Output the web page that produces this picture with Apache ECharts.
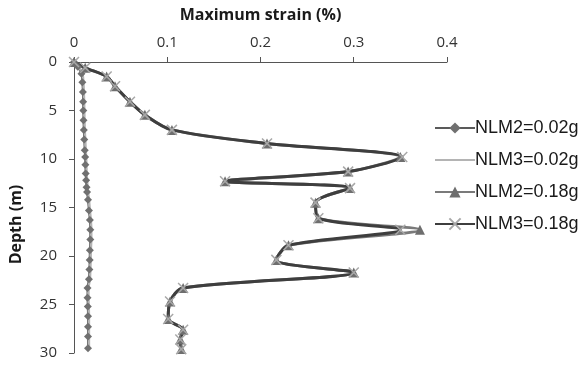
<!DOCTYPE html>
<html>
<head>
<meta charset="utf-8">
<script src="https://cdn.jsdelivr.net/npm/echarts@6/dist/echarts.min.js"></script>
<style>
  html, body { margin: 0; padding: 0; background: #ffffff; }
  #chart { width: 585px; height: 365px; }
</style>
</head>
<body>
<div id="chart"></div>
<script>
// Depth profiles of maximum shear strain
const xTicks = [0, 0.1, 0.2, 0.3, 0.4];
const yTicks = [0, 5, 10, 15, 20, 25, 30];

// Low-intensity motion (0.02g)
const depthLow = [0, 0.5, 1.2, 2.1, 3.1, 4.1, 5.0, 6.0, 7.0, 8.0, 9.1, 9.8, 10.6, 11.5, 12.2, 12.9, 13.4, 14.2, 15.3, 16.3, 17.3, 18.3, 19.4, 20.4, 21.4, 22.4, 23.3, 24.3, 25.2, 26.2, 27.3, 28.3, 29.5];
const nlm2Low = [0, 0.004, 0.008, 0.009, 0.0095, 0.0098, 0.010, 0.0102, 0.0105, 0.011, 0.0115, 0.012, 0.0122, 0.0125, 0.013, 0.0135, 0.014, 0.015, 0.016, 0.017, 0.0175, 0.0175, 0.017, 0.0168, 0.0165, 0.016, 0.0145, 0.0145, 0.0148, 0.015, 0.015, 0.015, 0.015];
const nlm3Low = [0, 0.005, 0.009, 0.010, 0.0105, 0.0108, 0.011, 0.0112, 0.0115, 0.012, 0.0125, 0.013, 0.0132, 0.0135, 0.014, 0.0145, 0.015, 0.016, 0.017, 0.018, 0.0185, 0.0185, 0.018, 0.0178, 0.0175, 0.017, 0.0155, 0.0155, 0.0158, 0.016, 0.016, 0.016, 0.016];

// High-intensity motion (0.18g)
const depthHigh = [0, 0.6, 1.5, 2.5, 4.1, 5.45, 7.0, 8.4, 9.8, 11.3, 12.3, 13.0, 14.5, 16.1, 17.3, 18.9, 20.4, 21.7, 23.3, 24.7, 26.5, 27.6, 28.6, 29.6];
const nlm2High = [0, 0.012, 0.035, 0.044, 0.060, 0.076, 0.105, 0.207, 0.350, 0.294, 0.162, 0.296, 0.259, 0.262, 0.371, 0.230, 0.217, 0.300, 0.117, 0.103, 0.101, 0.117, 0.114, 0.115];
const nlm3High = [0, 0.012, 0.035, 0.044, 0.060, 0.076, 0.105, 0.207, 0.352, 0.294, 0.162, 0.296, 0.259, 0.262, 0.350, 0.230, 0.217, 0.300, 0.117, 0.103, 0.101, 0.117, 0.114, 0.115];

const seriesNames = ['NLM2=0.02g', 'NLM3=0.02g', 'NLM2=0.18g', 'NLM3=0.18g'];

function pairs(xs, ds) {
  return xs.map((v, i) => [v, ds[i]]);
}

const crossPath = 'path://M0,0L10,10M10,0L0,10';
const font = 'Open Sans, Liberation Sans, sans-serif';

const chart = echarts.init(document.getElementById('chart'), null, { renderer: 'canvas' });
chart.setOption({
  animation: false,
  backgroundColor: '#ffffff',
  grid: { left: 74, right: 138, top: 62, bottom: 12, containLabel: false },
  legend: {
    orient: 'vertical',
    left: 429,
    top: 114,
    itemWidth: 40,
    itemHeight: 14,
    itemGap: 14,
    data: [
      { name: seriesNames[0] },
      { name: seriesNames[1], itemStyle: { opacity: 0 } },
      { name: seriesNames[2] },
      { name: seriesNames[3] }
    ],
    textStyle: { fontFamily: 'Liberation Sans, Arial, sans-serif', fontSize: 18, color: '#1a1a1a', padding: [0, 0, 0, -5] }
  },
  xAxis: {
    type: 'value',
    position: 'top',
    min: xTicks[0],
    max: xTicks[xTicks.length - 1],
    interval: 0.1,
    name: 'Maximum strain (%)',
    nameLocation: 'middle',
    nameGap: 39,
    nameTextStyle: { fontFamily: font, fontWeight: 'bold', fontSize: 16, color: '#1a1a1a' },
    axisLine: { show: true, lineStyle: { color: '#555555', width: 1 } },
    axisTick: { show: true, inside: false, length: 5, lineStyle: { color: '#555555' } },
    axisLabel: { margin: 12, fontFamily: font, fontSize: 15, color: '#333333' },
    splitLine: { show: false }
  },
  yAxis: {
    type: 'value',
    inverse: true,
    min: yTicks[0],
    max: yTicks[yTicks.length - 1],
    interval: 5,
    name: 'Depth (m)',
    nameLocation: 'middle',
    nameGap: 50,
    nameTextStyle: { fontFamily: font, fontWeight: 'bold', fontSize: 16, color: '#1a1a1a', padding: [0, 34, 0, 0] },
    axisLine: { show: true, lineStyle: { color: '#555555', width: 1 } },
    axisTick: { show: true, inside: false, length: 5, lineStyle: { color: '#555555' } },
    axisLabel: { margin: 17, fontFamily: font, fontSize: 15, color: '#333333' },
    splitLine: { show: false }
  },
  series: [
    {
      name: seriesNames[0],
      type: 'line',
      data: pairs(nlm2Low, depthLow),
      smooth: 0.3,
      symbol: 'diamond',
      symbolSize: 8,
      lineStyle: { color: '#5a5a5a', width: 2 },
      itemStyle: { color: '#707070' }
    },
    {
      name: seriesNames[1],
      type: 'line',
      data: pairs(nlm3Low, depthLow),
      smooth: 0.3,
      symbol: 'none',
      lineStyle: { color: '#b4b4b4', width: 2.5 },
      itemStyle: { color: '#b4b4b4' }
    },
    {
      name: seriesNames[2],
      type: 'line',
      data: pairs(nlm2High, depthHigh),
      smooth: 0.3,
      symbol: 'triangle',
      symbolSize: 10,
      lineStyle: { color: '#7a7a7a', width: 3 },
      itemStyle: { color: '#6e6e6e' }
    },
    {
      name: seriesNames[3],
      type: 'line',
      data: pairs(nlm3High, depthHigh),
      smooth: 0.3,
      symbol: crossPath,
      symbolSize: 10,
      lineStyle: { color: '#3e3e3e', width: 3 },
      itemStyle: { color: '#a8a8a8', borderColor: '#a8a8a8', borderWidth: 1.5 }
    }
  ]
});
</script>
</body>
</html>
